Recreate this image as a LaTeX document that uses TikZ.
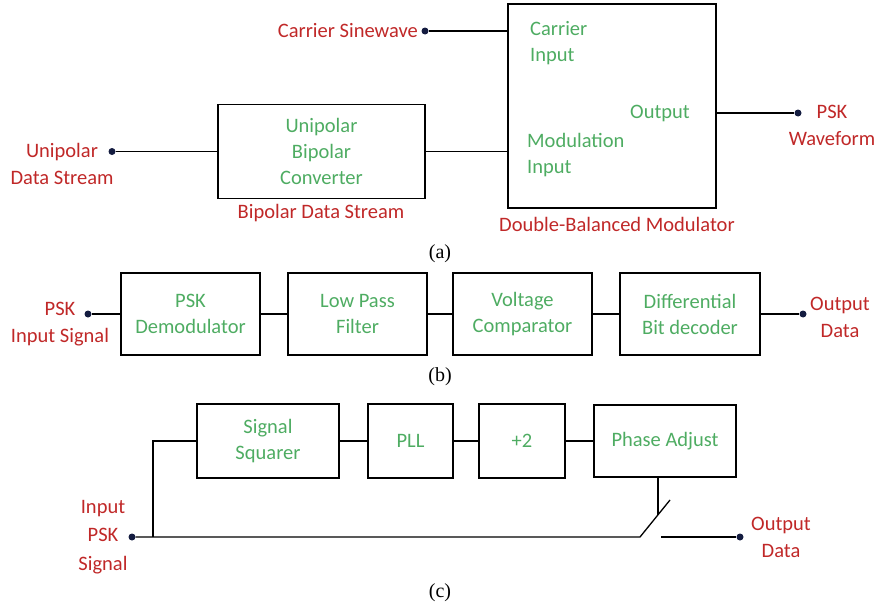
\documentclass[tikz,border=0pt]{standalone}
\usepackage{fontspec}
\setmainfont{Liberation Serif}
\newfontfamily\lblfont{Carlito}
\definecolor{lblred}{RGB}{192, 40, 40}
\definecolor{lblgreen}{RGB}{78, 172, 98}
\definecolor{dotblue}{RGB}{20, 28, 64}
\usetikzlibrary{calc}
\tikzset{
	block/.style={rectangle, draw=black, line width=1.6pt, align=center, inner sep=0pt, text=lblgreen, font=\lblfont\fontsize{20.5}{26}\selectfont},
	portlabel/.style={align=left, inner sep=0pt, text=lblgreen, font=\lblfont\fontsize{20.5}{26}\selectfont},
	extlabel/.style={align=center, inner sep=0pt, text=lblred, font=\lblfont\fontsize{20.5}{27}\selectfont},
	dot/.style={circle, fill=dotblue, inner sep=0pt, minimum size=7pt},
	wire/.style={line width=1.3pt, draw=black},
	caption/.style={inner sep=0pt, font=\fontsize{20}{24}\selectfont},
}

\begin{document}
\begin{tikzpicture}[x=1pt, y=-1pt]
		\useasboundingbox (0,0) rectangle (879,613);
		% (a) modulator
		\node[block, minimum width=208, minimum height=204] (dbm) at (612,106) {};
		\node[block, minimum width=207, minimum height=94] (conv) at (321.5,151.5) {Unipolar\\Bipolar\\Converter};
		\node[portlabel, anchor=west] (carin) at (530,43) {Carrier\\Input};
		\node[portlabel, anchor=west] (outp) at (630,113) {Output};
		\node[portlabel, anchor=west] (modin) at (527,155) {Modulation\\Input};
		\node[dot] (csdot) at (425,31) {};
		\node[extlabel, anchor=east] (cs) at (418,31) {Carrier Sinewave};
		\node[dot] (unidot) at (112,151.5) {};
		\node[extlabel] (uni) at (62,164) {Unipolar\\Data Stream};
		\node[dot] (pskdot) at (798,113) {};
		\node[extlabel] (psk) at (832,125) {PSK\\Waveform};
		\node[extlabel] (bds) at (321,213) {Bipolar Data Stream};
		\node[extlabel] (dbmname) at (617,224) {Double-Balanced Modulator};
		\node[caption] (capa) at (440,254) {(a)};
		\draw[wire] (csdot) -- (csdot -| dbm.west);
		\draw[wire] (unidot) -- (conv.west);
		\draw[wire] (conv.east) -- (conv.east -| dbm.west);
		\draw[wire] (pskdot -| dbm.east) -- (pskdot);
		% (b) demodulator
		\node[block, minimum width=139, minimum height=82] (dem) at (190.5,314) {PSK\\Demodulator};
		\node[block, minimum width=139, minimum height=82] (lpf) at (357.5,314) {Low Pass\\Filter};
		\node[block, minimum width=139, minimum height=82] (comp) at (522.5,314) {Voltage\\Comparator};
		\node[block, minimum width=140, minimum height=82] (dec) at (690,314) {Differential\\Bit decoder};
		\node[dot] (indot) at (88,314) {};
		\node[extlabel] (inlbl) at (60,324) {PSK\\Input Signal};
		\node[dot] (outdot) at (803,314) {};
		\node[extlabel] (outlbl) at (840,317) {Output\\Data};
		\node[caption] (capb) at (440,377) {(b)};
		\draw[wire] (indot) -- (dem);
		\draw[wire] (dem) -- (lpf);
		\draw[wire] (lpf) -- (comp);
		\draw[wire] (comp) -- (dec);
		\draw[wire] (dec) -- (outdot);
		% (c) carrier recovery
		\node[block, minimum width=142, minimum height=74] (sq) at (268,441) {Signal\\Squarer};
		\node[block, minimum width=85, minimum height=74] (pll) at (410.5,441) {PLL};
		\node[block, minimum width=86, minimum height=74] (div) at (522,441) {+2};
		\node[block, minimum width=142, minimum height=72] (phase) at (665,441) {Phase Adjust};
		\node[dot] (cindot) at (132,537) {};
		\node[extlabel, font=\lblfont\fontsize{20.5}{28.5}\selectfont] (cinlbl) at (103,537) {Input\\PSK\\Signal};
		\node[dot] (coutdot) at (740,537) {};
		\node[extlabel] (coutlbl) at (781,537) {Output\\Data};
		\node[caption] (capc) at (440,593) {(c)};
		\coordinate (tap) at (153,537);
		\coordinate (swa) at (640,537);
		\coordinate (swb) at (670,500);
		\coordinate (swm) at (658,515);
		\coordinate (swc) at (661,537);
		\draw[wire] (cindot) -- (swa) -- (swb);
		\draw[wire] (tap) |- (sq.west);
		\draw[wire] (sq) -- (pll);
		\draw[wire] (pll) -- (div);
		\draw[wire] (div) -- (phase);
		\draw[wire] (swm |- phase.south) -- (swm);
		\draw[wire] (swc) -- (coutdot);
	\end{tikzpicture}
\end{document}
